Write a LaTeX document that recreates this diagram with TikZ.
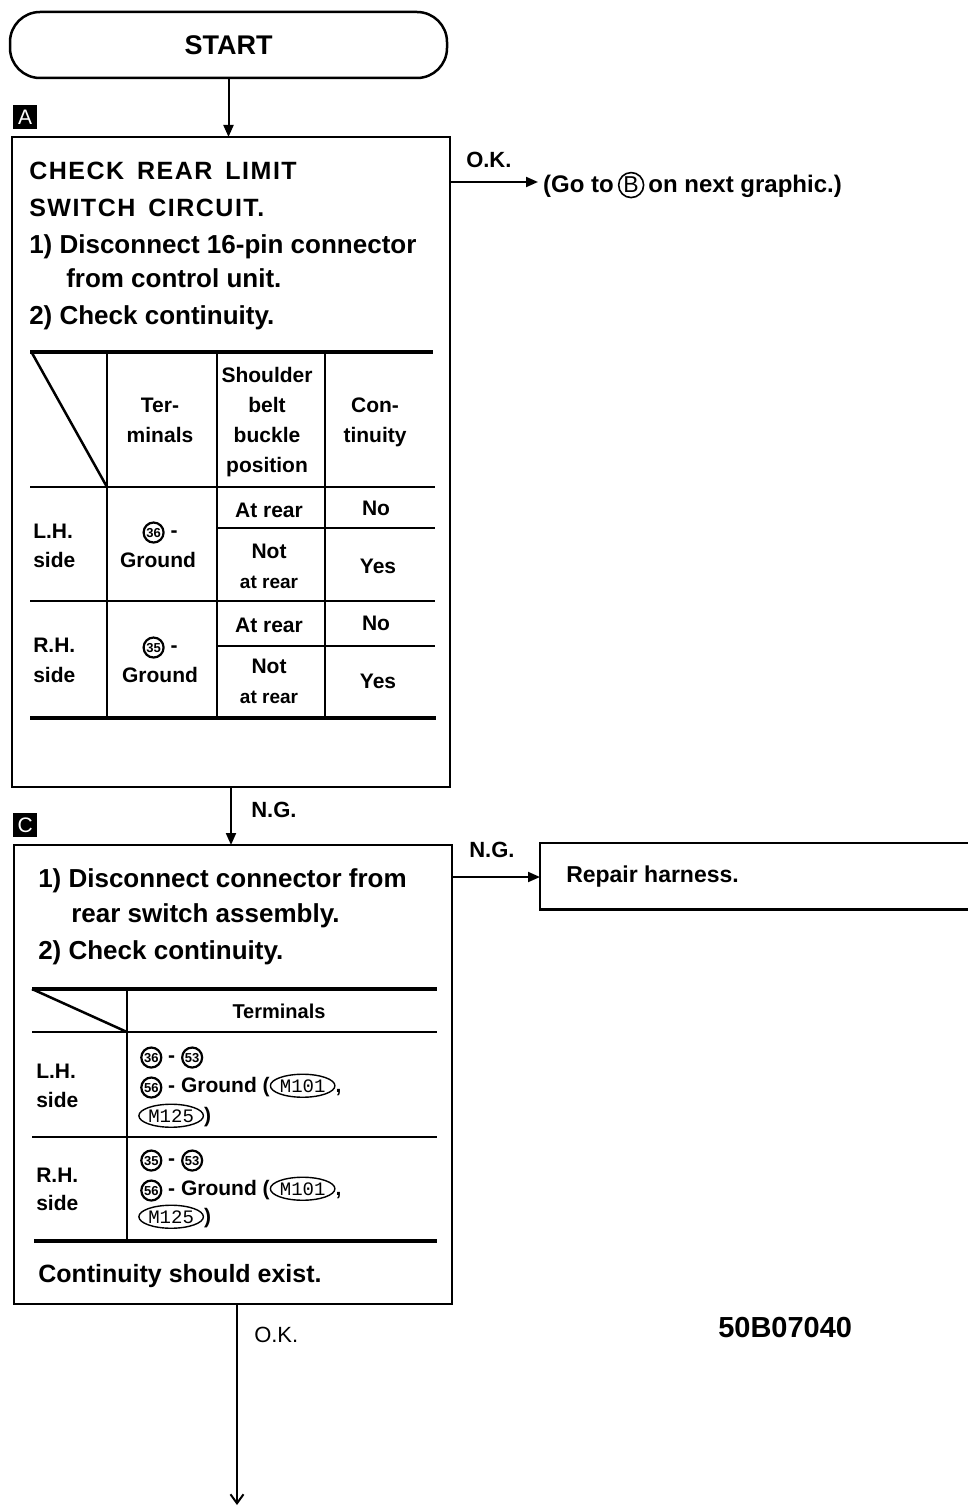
\documentclass[tikz,border=0pt]{standalone}
\usepackage{fontspec}
\setmainfont{Liberation Sans}
\newfontfamily\monof{Liberation Mono}
\usetikzlibrary{arrows.meta,shapes.geometric,calc}
\newcommand{\fs}[1]{\fontsize{#1}{#1}\selectfont}
\newcommand{\cnum}[1]{\tikz[baseline=(cn.base)]\node[circle,draw,line width=2.2pt,inner sep=0pt,minimum size=20pt,font=\bfseries\fs{13}](cn){#1};}
\newcommand{\mref}[1]{\tikz[baseline=(mr.base)]\node[ellipse,draw,line width=1.4pt,inner sep=0pt,minimum height=23pt,minimum width=64pt,font=\monof\mdseries\fs{19}](mr){#1};}
\newcommand{\circB}{\tikz[baseline=(cb.base)]\node[circle,draw,line width=1.6pt,inner sep=0pt,minimum size=25pt,font=\mdseries\fs{23}](cb){B};}
\begin{document}
\begin{tikzpicture}[x=1pt,y=-1pt,line width=2.5pt,
  box/.style={draw,line width=2.5pt,rectangle,inner sep=0pt,outer sep=0pt,anchor=north west},
  tl/.style={anchor=base west,inner sep=0pt,font=\bfseries\fs{26}},
  tcap/.style={anchor=base west,inner sep=0pt,font=\bfseries\fs{25}\addfontfeature{LetterSpace=6}},
  tc/.style={anchor=base,inner sep=0pt,font=\bfseries\fs{21}},
  tcs/.style={anchor=base,inner sep=0pt,font=\bfseries\fs{19}},
  tw/.style={anchor=base west,inner sep=0pt,font=\bfseries\fs{21}},
  lab/.style={anchor=base west,inner sep=0pt,font=\bfseries\fs{22}},
  arr/.style={-{Triangle[length=12pt,width=10pt]},line width=2pt},
  thickl/.style={line width=4.5pt},
  thinl/.style={line width=2.5pt},
  tag/.style={fill=black,text=white,minimum size=24pt,inner sep=0pt,font=\fs{21},anchor=north west}]
\useasboundingbox (0,0) rectangle (967,1511);

% START
\node[draw,line width=2.5pt,rounded corners=30pt,minimum width=437pt,minimum height=66pt,inner sep=0pt,font=\bfseries\fs{27}] (start) at (228.5,45) {START};

% Box A
\node[tag] (tagA) at (12,104) {A};
\node[box,minimum width=438pt,minimum height=650pt] (boxA) at (12,137) {};
\draw[arr] (start.south) -- (start.south |- boxA.north);

\node[tcap] (a1) at (28,180) {CHECK\hspace{13pt}REAR\hspace{13pt}LIMIT};
\node[tcap] (a2) at (28,217) {SWITCH\hspace{13pt}CIRCUIT.};
\node[tl] (a3) at (28,254) {1)\ Disconnect 16-pin connector};
\node[tl] (a4) at (65,288) {from control unit.};
\node[tl] (a5) at (28,324) {2)\ Check continuity.};

% table A
\draw[thickl] (30,352) -- (433,352);
\draw[thinl] (30,487) -- (435,487);
\draw[thinl] (217,528) -- (435,528);
\draw[thinl] (30,601) -- (435,601);
\draw[thinl] (217,646) -- (435,646);
\draw[thickl] (30,718) -- (436,718);
\draw[thinl] (107,352) -- (107,718);
\draw[thinl] (217,352) -- (217,718);
\draw[thinl] (325,352) -- (325,718);
\draw[thinl] (32,353) -- (107,487);

\node[tc] (h1) at (160,412) {Ter-};
\node[tc] (h2) at (160,442) {minals};
\node[tc] (h3) at (267,382) {Shoulder};
\node[tc] (h4) at (267,412) {belt};
\node[tc] (h5) at (267,442) {buckle};
\node[tc] (h6) at (267,472) {position};
\node[tc] (h7) at (375,412) {Con-};
\node[tc] (h8) at (375,442) {tinuity};

\node[tw] (l1) at (32,538) {L.H.};
\node[tw] (l2) at (32,567) {side};
\node[tc] (l3) at (160,537) {\cnum{36}\ -};
\node[tc] (l4) at (158,567) {Ground};
\node[tc] (l5) at (269,517) {At rear};
\node[tc] (l6) at (376,515) {No};
\node[tc] (l7) at (269,558) {Not};
\node[tcs] (l8) at (269,588) {at rear};
\node[tc] (l9) at (378,573) {Yes};

\node[tw] (r1) at (32,652) {R.H.};
\node[tw] (r2) at (32,682) {side};
\node[tc] (r3) at (160,652) {\cnum{35}\ -};
\node[tc] (r4) at (160,682) {Ground};
\node[tc] (r5) at (269,632) {At rear};
\node[tc] (r6) at (376,630) {No};
\node[tc] (r7) at (269,673) {Not};
\node[tcs] (r8) at (269,703) {at rear};
\node[tc] (r9) at (378,688) {Yes};

% OK branch
\node[lab] (okA) at (465,168) {O.K.};
\node[anchor=base west,inner sep=0pt,font=\bfseries\fs{24}] (goto) at (543,193) {(Go to\,\circB\,on next graphic.)};
\coordinate (okstart) at (450,182);
\draw[arr] (okstart) -- ($(okstart -| goto.west)+(-5,0)$);

% Box C
\node[lab] (ngA) at (250,817) {N.G.};
\node[tag] (tagC) at (12,812) {C};
\node[box,minimum width=438pt,minimum height=459pt] (boxC) at (14,845) {};
\draw[arr] (boxA.south) -- (boxA.south |- boxC.north);

\node[tl] (c1) at (37,887) {1)\ Disconnect connector from};
\node[tl] (c2) at (70,922) {rear switch assembly.};
\node[tl] (c3) at (37,959) {2)\ Check continuity.};

% table C
\draw[thickl] (32,989) -- (437,989);
\draw[thinl] (32,1032) -- (437,1032);
\draw[thinl] (32,1137) -- (437,1137);
\draw[thickl] (34,1241) -- (437,1241);
\draw[thinl] (127,989) -- (127,1241);
\draw[thinl] (32,989) -- (127,1032);

\node[tc,font=\bfseries\fs{20}] (t0) at (279,1018) {Terminals};
\node[tw] (t1) at (35,1078) {L.H.};
\node[tw] (t2) at (35,1107) {side};
\node[tw] (t3) at (140,1062) {\cnum{36} - \cnum{53}};
\node[tw] (t4) at (140,1092) {\cnum{56} - Ground (\mref{M101},};
\node[tw] (t5) at (138,1122) {\mref{M125})};
\node[tw] (t6) at (35,1182) {R.H.};
\node[tw] (t7) at (35,1210) {side};
\node[tw] (t8) at (140,1165) {\cnum{35} - \cnum{53}};
\node[tw] (t9) at (140,1195) {\cnum{56} - Ground (\mref{M101},};
\node[tw] (t10) at (138,1223) {\mref{M125})};
\node[tl,font=\bfseries\fs{25}] (t11) at (37,1282) {Continuity should exist.};

% N.G. branch
\node[lab] (ngC) at (468,857) {N.G.};
\node[anchor=north west,minimum width=427pt,minimum height=64pt,inner sep=0pt] (repair) at (540,843) {};
\draw[line width=2.5pt] (repair.north east) -- (repair.north west) -- (repair.south west) -- (repair.south east);
\node[anchor=base west,inner sep=0pt,font=\bfseries\fs{23}] (repairtxt) at (565,882) {Repair harness.};
\draw[arr] (boxC.east |- 0,877) -- (repair.west |- 0,877);

% OK down
\coordinate (endpt) at (237,1505);
\draw[-{Straight Barb[length=9pt,width=13pt]},line width=2pt] (boxC.south -| endpt) -- (endpt);
\node[anchor=base west,inner sep=0pt,font=\fs{22}] (okC) at (253,1342) {O.K.};
\node[anchor=base west,inner sep=0pt,font=\bfseries\fs{29}] (code) at (717,1337) {50B07040};
\end{tikzpicture}
\end{document}
